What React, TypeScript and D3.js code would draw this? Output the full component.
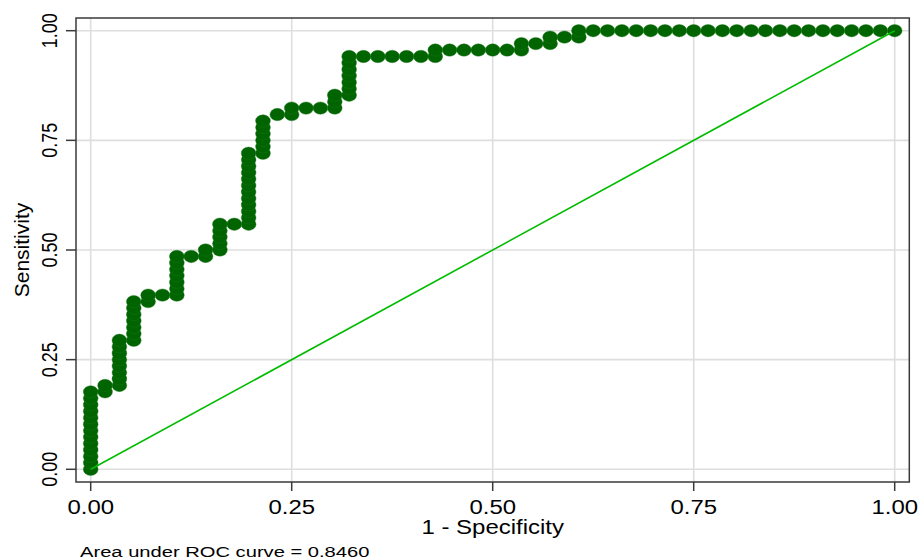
import React from "react";
import * as d3 from "d3";

// ROC data: counts of false positives (column index) and true positives
const N_NEG = 56;
const N_POS = 68;
// For each false-positive count (0..56), the true-positive counts at the cutoffs
const tpByFp: number[][] = [
  [0, 1, 2, 3, 4, 5, 6, 7, 8, 9, 10, 11, 12],
  [12, 13],
  [13, 14, 15, 16, 17, 18, 19, 20],
  [20, 21, 22, 23, 24, 25, 26],
  [26, 27],
  [27],
  [27, 28, 29, 30, 31, 32, 33],
  [33],
  [33, 34],
  [34, 35, 36, 37, 38],
  [38],
  [38, 39, 40, 41, 42, 43, 44, 45, 46, 47, 48, 49],
  [49, 50, 51, 52, 53, 54],
  [55],
  [55, 56],
  [56],
  [56],
  [56, 57, 58],
  [58, 59, 60, 61, 62, 63, 64],
  [64],
  [64],
  [64],
  [64],
  [64],
  [64, 65],
  [65],
  [65],
  [65],
  [65],
  [65],
  [65, 66],
  [66],
  [66, 67],
  [67],
  [67, 68],
  [68], [68], [68], [68], [68], [68], [68], [68], [68], [68], [68],
  [68], [68], [68], [68], [68], [68], [68], [68], [68], [68], [68],
];

const xTicks = [0, 0.25, 0.5, 0.75, 1];
const yTicks = [0, 0.25, 0.5, 0.75, 1];
const xTitle = "1 - Specificity";
const yTitle = "Sensitivity";
const noteText = "Area under ROC curve = 0.8460";

const W = 919;
const H = 560;
const FONT = "'Liberation Sans', Arial, Helvetica, sans-serif";

export default function App() {
  const x = d3.scaleLinear().domain([0, 1]).range([90.7, 894.7]);
  const y = d3.scaleLinear().domain([0, 1]).range([469.3, 30.7]);
  const fmt = d3.format(".2f");

  const points = tpByFp.flatMap((tps, i) =>
    tps.map((tp) => ({ fpr: i / N_NEG, tpr: tp / N_POS }))
  );

  const frame = { left: 76, top: 18, right: 909.3, bottom: 482 };
  const line = d3
    .line<[number, number]>()
    .x((d) => x(d[0]))
    .y((d) => y(d[1]));

  return (
    <div style={{ position: "fixed", left: 0, top: 0, background: "#fff" }}>
      <svg width={W} height={H} style={{ display: "block" }}>
        <rect x={0} y={0} width={W} height={H} fill="#fff" />
        {/* grid */}
        {xTicks.map((t) => (
          <line
            key={"gx" + t}
            x1={x(t)}
            x2={x(t)}
            y1={frame.top}
            y2={frame.bottom}
            stroke="#dedede"
            strokeWidth={1.6}
          />
        ))}
        {yTicks.map((t) => (
          <line
            key={"gy" + t}
            x1={frame.left}
            x2={frame.right}
            y1={y(t)}
            y2={y(t)}
            stroke="#dedede"
            strokeWidth={1.6}
          />
        ))}
        {/* markers */}
        {points.map((p, i) => (
          <ellipse
            key={"p" + i}
            cx={x(p.fpr)}
            cy={y(p.tpr)}
            rx={7.4}
            ry={6.2}
            fill="#006400"
            stroke="#1f7a1f"
            strokeWidth={0.4}
          />
        ))}
        {/* reference line */}
        <path
          d={line([
            [0, 0],
            [1, 1],
          ]) || ""}
          stroke="#00bb00"
          strokeWidth={1.6}
          fill="none"
        />
        {/* frame */}
        <rect
          x={frame.left}
          y={frame.top}
          width={frame.right - frame.left}
          height={frame.bottom - frame.top}
          fill="none"
          stroke="#3a3a3a"
          strokeWidth={1.5}
        />
        {/* x ticks */}
        {xTicks.map((t) => (
          <g key={"xt" + t}>
            <line
              x1={x(t)}
              x2={x(t)}
              y1={frame.bottom}
              y2={frame.bottom + 9}
              stroke="#3a3a3a"
              strokeWidth={1.5}
            />
            <text
              transform={`translate(${x(t)},514) scale(1.14,1)`}
              textAnchor="middle"
              fontFamily={FONT}
              fontSize={21}
              fill="#000"
            >
              {fmt(t)}
            </text>
          </g>
        ))}
        {/* y ticks */}
        {yTicks.map((t) => (
          <g key={"yt" + t}>
            <line
              x1={frame.left - 10}
              x2={frame.left}
              y1={y(t)}
              y2={y(t)}
              stroke="#3a3a3a"
              strokeWidth={1.5}
            />
            <text
              transform={`translate(56.5,${y(t)}) scale(1.2,1) rotate(-90)`}
              textAnchor="middle"
              fontFamily={FONT}
              fontSize={18}
              fill="#000"
            >
              {fmt(t)}
            </text>
          </g>
        ))}
        {/* axis titles */}
        <text
          transform={`translate(${(x(0) + x(1)) / 2},534) scale(1.17,1)`}
          textAnchor="middle"
          fontFamily={FONT}
          fontSize={20.5}
          fill="#000"
        >
          {xTitle}
        </text>
        <text
          transform={`translate(28.5,${(y(0) + y(1)) / 2}) rotate(-90)`}
          textAnchor="middle"
          fontFamily={FONT}
          fontSize={21}
          fill="#000"
        >
          {yTitle}
        </text>
        {/* note */}
        <text
          transform={`translate(80,556.5) scale(1.3,1)`}
          textAnchor="start"
          fontFamily={FONT}
          fontSize={15.5}
          fill="#000"
        >
          {noteText}
        </text>
      </svg>
    </div>
  );
}
